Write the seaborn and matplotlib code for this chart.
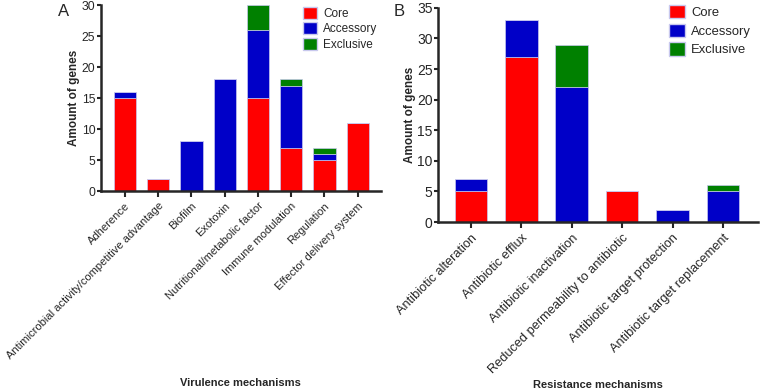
import numpy as np
import pandas as pd
import matplotlib
matplotlib.use("Agg")
import matplotlib.pyplot as plt
import seaborn as sns
from matplotlib.patches import Patch

virulence_cats = [
    'Adherence',
    'Antimicrobial activity/competitive advantage',
    'Biofilm',
    'Exotoxin',
    'Nutritional/metabolic factor',
    'Immune modulation',
    'Regulation',
    'Effector delivery system',
]
virulence_core = [15, 2, 0, 0, 15, 7, 5, 11]
virulence_accessory = [1, 0, 8, 18, 11, 10, 1, 0]
virulence_exclusive = [0, 0, 0, 0, 4, 1, 1, 0]

resistance_cats = [
    'Antibiotic alteration',
    'Antibiotic efflux',
    'Antibiotic inactivation',
    'Reduced permeability to antibiotic',
    'Antibiotic target protection',
    'Antibiotic target replacement',
]
resistance_core = [5, 27, 0, 5, 0, 0]
resistance_accessory = [2, 6, 22, 0, 2, 5]
resistance_exclusive = [0, 0, 7, 0, 0, 1]

group_names = ['Core', 'Accessory', 'Exclusive']
group_colors = ['#ff0000', '#0000c8', '#008000']

sns.set_style('ticks')
plt.rcParams['font.family'] = ['Liberation Sans', 'DejaVu Sans']


def stacked(ax, cats, core, accessory, exclusive, width, fs):
    df = pd.DataFrame({'cat': cats, 'Core': core, 'Accessory': accessory, 'Exclusive': exclusive})
    bottom = np.zeros(len(df))
    for name, color in zip(group_names, group_colors):
        sns.barplot(data=df, x='cat', y=name, bottom=bottom, color=color, width=width,
                    edgecolor='#c8c8ee', linewidth=0.5, saturation=1, ax=ax)
        bottom = bottom + df[name].values
    ax.set_xticks(range(len(cats)))
    ax.set_xticklabels(cats, rotation=45, ha='right', rotation_mode='anchor', fontsize=fs)
    ax.tick_params(axis='y', labelsize=fs + 0.8, width=1.5, length=3, pad=1)
    ax.tick_params(axis='x', width=1.5, length=4, pad=3)
    for s in ['left', 'bottom']:
        ax.spines[s].set_linewidth(1.8)
    sns.despine(ax=ax)
    ax.set_xlabel('')
    ax.set_ylabel('Amount of genes', fontsize=8.5, fontweight='bold', labelpad=1)


def add_legend(ax, x, y, fs, spacing):
    handles = [Patch(facecolor=c, edgecolor='#c8c8ee', label=n) for n, c in zip(group_names, group_colors)]
    ax.legend(handles=handles, loc='upper left', bbox_to_anchor=(x, y),
              bbox_transform=ax.figure.transFigure, frameon=False, fontsize=fs,
              handlelength=1.2, handleheight=1.2, handletextpad=0.5, labelspacing=spacing,
              borderaxespad=0, borderpad=0)


fig = plt.figure(figsize=(7.62, 3.91), dpi=100)

ax_a = fig.add_axes([0.1325, 0.5115, 0.3675, 0.4755])
stacked(ax_a, virulence_cats, virulence_core, virulence_accessory, virulence_exclusive, 0.67, 8)
ax_a.set_ylim(0, 30)
ax_a.set_yticks(range(0, 31, 5))
ax_a.set_xlim(-0.72, 7.7)
add_legend(ax_a, 303 / 762, 1 - 7 / 391, 8.5, 0.2)
fig.text(0.316, 1 - 383 / 391, 'Virulence mechanisms', fontsize=8, fontweight='bold',
         ha='center', va='center')
fig.text(0.076, 0.99, 'A', fontsize=12, va='top')

ax_b = fig.add_axes([0.575, 0.432, 0.42, 0.548])
stacked(ax_b, resistance_cats, resistance_core, resistance_accessory, resistance_exclusive, 0.65, 9.2)
ax_b.set_ylim(0, 35)
ax_b.set_yticks(range(0, 36, 5))
ax_b.set_xlim(-0.65, 5.7)
add_legend(ax_b, 669 / 762, 1 - 5 / 391, 9.4, 0.35)
fig.text(0.785, 1 - 385 / 391, 'Resistance mechanisms', fontsize=8, fontweight='bold',
         ha='center', va='center')
fig.text(0.516, 0.99, 'B', fontsize=12, va='top')

fig.savefig('out.png', dpi=100)
